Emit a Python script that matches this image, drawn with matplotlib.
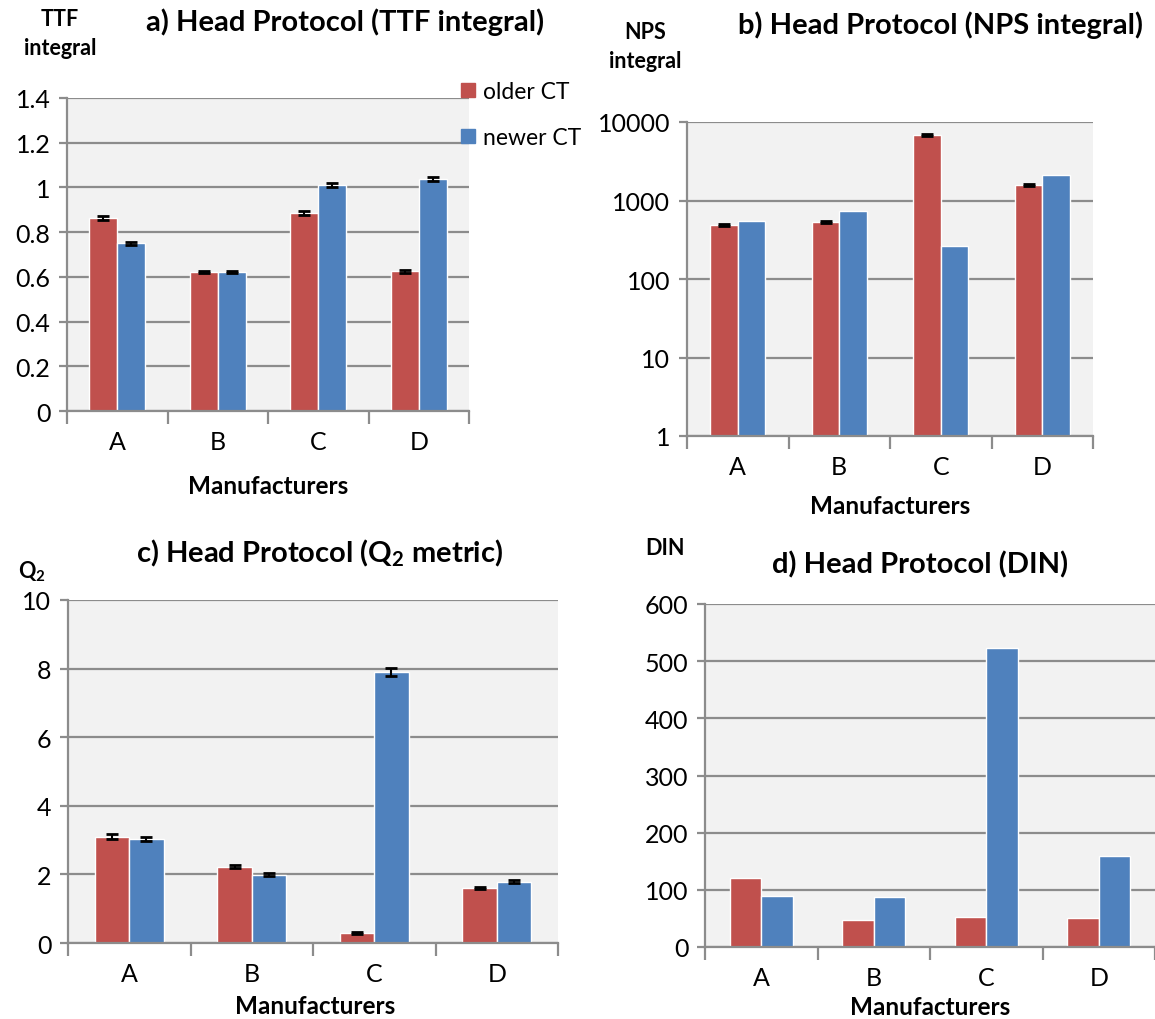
import matplotlib
matplotlib.use("Agg")
import matplotlib.pyplot as plt
from matplotlib.lines import Line2D
import numpy as np

plt.rcParams['font.family'] = ['Lato', 'DejaVu Sans']
plt.rcParams['mathtext.fontset'] = 'custom'
plt.rcParams['mathtext.bf'] = 'Lato:bold'
plt.rcParams['mathtext.rm'] = 'Lato'

categories = ["A", "B", "C", "D"]
series = ["older CT", "newer CT"]

ttf_older = [0.865, 0.622, 0.885, 0.625]
ttf_newer = [0.750, 0.622, 1.012, 1.036]
ttf_older_err = [0.009, 0.006, 0.009, 0.006]
ttf_newer_err = [0.007, 0.006, 0.008, 0.009]

nps_older = [490, 533, 6800, 1570]
nps_newer = [550, 730, 266, 2100]
nps_older_err = [15, 15, 180, 40]

q2_older = [3.10, 2.23, 0.30, 1.60]
q2_newer = [3.02, 1.99, 7.90, 1.79]
q2_older_err = [0.07, 0.05, 0.03, 0.04]
q2_newer_err = [0.06, 0.04, 0.13, 0.04]

din_older = [120, 47, 52, 50]
din_newer = [89, 87, 523, 159]

RED = "#c0504d"
BLUE = "#4f81bd"
GRID = "#8c8c8c"
BG = "#f2f2f2"

W, H = 1155, 1020
fig = plt.figure(figsize=(W / 100, H / 100), dpi=100)

TICK = 18
TITLE = 21
XLAB = 17.5
YLAB = 15.5


def px_axes(l, t, r, b):
    return fig.add_axes([l / W, 1 - b / H, (r - l) / W, (b - t) / H])


def style(ax, yticks, ylim, log=False):
    ax.set_facecolor(BG)
    ax.set_axisbelow(True)
    if log:
        ax.set_yscale("log")
        ax.minorticks_off()
    ax.set_ylim(*ylim)
    ax.set_yticks(yticks)
    ax.set_yticklabels([f"{v:g}" for v in yticks])
    ax.yaxis.grid(True, color=GRID, lw=1.6)
    ax.set_xlim(-0.5, len(categories) - 0.5)
    ax.set_xticks(np.arange(len(categories) + 1) - 0.5)
    ax.set_xticklabels([""] * (len(categories) + 1))
    ax.set_xticks(np.arange(len(categories)), minor=True)
    ax.set_xticklabels(categories, minor=True)
    ax.tick_params(axis="x", which="major", length=9, width=1.6, color=GRID)
    ax.tick_params(axis="x", which="minor", length=0, pad=14, labelsize=TICK)
    ax.tick_params(axis="y", length=6, width=1.6, color=GRID, labelsize=TICK, pad=6)
    for s in ["top", "right"]:
        ax.spines[s].set_visible(False)
    for s in ["left", "bottom"]:
        ax.spines[s].set_color(GRID)
        ax.spines[s].set_linewidth(1.6)


def bars(ax, older, newer, w, oerr=None, nerr=None, log=False):
    x = np.arange(len(categories))
    ekw = dict(ecolor="black", elinewidth=1.5, capsize=4, capthick=2)
    bot = 1 if log else 0
    ax.bar(x - w / 2, np.array(older) - bot, w, bottom=bot, color=RED, edgecolor="white", lw=1,
           yerr=oerr, error_kw=ekw)
    ax.bar(x + w / 2, np.array(newer) - bot, w, bottom=bot, color=BLUE, edgecolor="white", lw=1,
           yerr=nerr, error_kw=ekw)


bold = dict(fontweight="bold", color="black")

# a)
axa = px_axes(67, 99, 469, 412)
style(axa, [0, 0.2, 0.4, 0.6, 0.8, 1.0, 1.2, 1.4], (0, 1.4))
bars(axa, ttf_older, ttf_newer, 0.28, ttf_older_err, ttf_newer_err)
fig.text(60 / W, 1 - 34 / H, "TTF\nintegral", ha="center", va="center", fontsize=YLAB, linespacing=1.5, **bold)
fig.text(345 / W, 1 - 22 / H, "a) Head Protocol (TTF integral)", ha="center", va="center", fontsize=TITLE, **bold)
fig.text(268 / W, 1 - 487 / H, "Manufacturers", ha="center", va="center", fontsize=XLAB, **bold)
handles = [Line2D([], [], marker="s", ls="", color=c, markersize=10) for c in (RED, BLUE)]
fig.legend(handles, series, loc="upper left", bbox_to_anchor=(447 / W, 1 - 73 / H), frameon=False,
           fontsize=16.5, handletextpad=0.15, labelspacing=1.1, handlelength=1.0, borderaxespad=0)

# b)
axb = px_axes(687, 123, 1093, 437)
style(axb, [1, 10, 100, 1000, 10000], (1, 10000), log=True)
bars(axb, nps_older, nps_newer, 0.27, nps_older_err, None, log=True)
fig.text(645 / W, 1 - 47 / H, "NPS\nintegral", ha="center", va="center", fontsize=YLAB, linespacing=1.5, **bold)
fig.text(940 / W, 1 - 25 / H, "b) Head Protocol (NPS integral)", ha="center", va="center", fontsize=TITLE, **bold)
fig.text(890 / W, 1 - 506 / H, "Manufacturers", ha="center", va="center", fontsize=XLAB, **bold)

# c)
axc = px_axes(68, 601, 558, 944)
style(axc, [0, 2, 4, 6, 8, 10], (0, 10))
bars(axc, q2_older, q2_newer, 0.28, q2_older_err, q2_newer_err)
fig.text(32 / W, 1 - 572 / H, r"Q$_\mathbf{2}$", ha="center", va="center", fontsize=YLAB, **bold)
fig.text(320 / W, 1 - 553 / H, r"c) Head Protocol (Q$_\mathbf{2}$ metric)", ha="center", va="center", fontsize=TITLE, **bold)
fig.text(315 / W, 1 - 1007 / H, "Manufacturers", ha="center", va="center", fontsize=XLAB, **bold)

# d)
axd = px_axes(705, 605, 1155, 948)
style(axd, [0, 100, 200, 300, 400, 500, 600], (0, 600))
bars(axd, din_older, din_newer, 0.28)
fig.text(665 / W, 1 - 549 / H, "DIN", ha="center", va="center", fontsize=YLAB, **bold)
fig.text(920 / W, 1 - 565 / H, "d) Head Protocol (DIN)", ha="center", va="center", fontsize=TITLE, **bold)
fig.text(930 / W, 1 - 1008 / H, "Manufacturers", ha="center", va="center", fontsize=XLAB, **bold)

fig.savefig("out.png", dpi=100)
